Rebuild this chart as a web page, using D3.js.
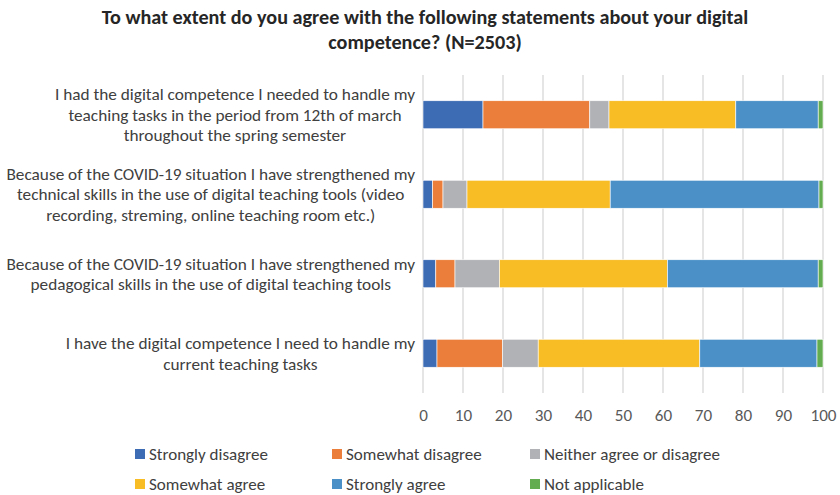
<!DOCTYPE html>
<html>
<head>
<meta charset="utf-8">
<script src="https://cdn.jsdelivr.net/npm/d3@7"></script>
<style>
  html, body { margin: 0; padding: 0; background: #fff; }
  svg { display: block; }
</style>
</head>
<body>
<svg id="chart" width="840" height="495"></svg>
<script>
// Survey statements (each wrapped label is stored as its lines)
const statements = [
  ["I had the digital competence I needed to handle my",
   "teaching tasks in the period from 12th of march",
   "throughout the spring semester"],
  ["Because of the COVID-19 situation I have strengthened my",
   "technical skills in the use of digital teaching tools (video",
   "recording, streming, online teaching room etc.)"],
  ["Because of the COVID-19 situation I have strengthened my",
   "pedagogical skills in the use of digital teaching tools"],
  ["I have the digital competence I need to handle my",
   "current teaching tasks"]
];

const responses = ["Strongly disagree", "Somewhat disagree", "Neither agree or disagree",
                   "Somewhat agree", "Strongly agree", "Not applicable"];

// Percentage of respondents per answer, one array per statement (same order as above)
const stronglyDisagree = [15.0, 2.4, 3.2, 3.5];
const somewhatDisagree = [26.7, 2.6, 4.8, 16.4];
const neitherAgree     = [4.8, 6.0, 11.1, 8.9];
const somewhatAgree    = [31.7, 35.8, 42.0, 40.4];
const stronglyAgree    = [20.6, 52.2, 37.7, 29.3];
const notApplicable    = [1.2, 1.0, 1.2, 1.5];

const xTicks = [0, 10, 20, 30, 40, 50, 60, 70, 80, 90, 100];

const titleLines = ["To what extent do you agree with the following statements about your digital",
                    "competence? (N=2503)"];

const colors = ["#3e6cb4", "#eb7e3a", "#b1b2b5", "#f8bc25", "#4b91c8", "#64ac50"];

const seriesValues = [stronglyDisagree, somewhatDisagree, neitherAgree,
                      somewhatAgree, stronglyAgree, notApplicable];

const FONT = "'Liberation Sans Narrow', Carlito, Lato, 'Liberation Sans', sans-serif";

const svg = d3.select("#chart");

// Table for the stack layout
const rows = statements.map((s, i) => {
  const r = { id: i };
  responses.forEach((k, j) => { r[k] = seriesValues[j][i]; });
  return r;
});
const stacked = d3.stack().keys(responses)(rows);

const x = d3.scaleLinear().domain([0, 100]).range([423, 823]);
const y = d3.scaleBand().domain(statements.map((s, i) => i))
  .range([75, 393]).paddingInner(0.648).paddingOuter(0.324);

// Measure text width for a given font spec
const measureCanvas = document.createElement("canvas").getContext("2d");
function textWidth(str, size, weight) {
  measureCanvas.font = `${weight || "normal"} ${size}px ${FONT}`;
  return measureCanvas.measureText(str).width;
}
function fitSize(str, targetWidth, weight) {
  return 100 * targetWidth / textWidth(str, 100, weight);
}

// Vertical gridlines
svg.append("g")
  .selectAll("line")
  .data(xTicks)
  .join("line")
  .attr("x1", d => x(d)).attr("x2", d => x(d))
  .attr("y1", 75).attr("y2", 393)
  .attr("stroke", "#dcdcdc")
  .attr("stroke-width", 1.5);

// Stacked bars
svg.append("g")
  .selectAll("g")
  .data(stacked)
  .join("g")
  .attr("fill", (d, i) => colors[i])
  .selectAll("rect")
  .data(d => d)
  .join("rect")
  .attr("x", d => x(d[0]))
  .attr("width", d => x(d[1]) - x(d[0]))
  .attr("y", (d, i) => y(i))
  .attr("height", y.bandwidth())
  .attr("stroke", "#fff")
  .attr("stroke-width", 0.6);

// X axis tick labels
const tickSize = fitSize("100", 26);
const xAxis = d3.axisBottom(x).tickValues(xTicks).tickSize(0).tickPadding(0);
const axisG = svg.append("g").attr("transform", "translate(0,415)").call(xAxis);
axisG.select(".domain").remove();
axisG.selectAll("text")
  .attr("font-family", FONT)
  .attr("font-size", tickSize)
  .attr("fill", "#595959")
  .attr("y", 0)
  .attr("dy", "0.35em");

// Category labels: each block right-aligned at the axis, lines centred within the block
const labelSize = fitSize("Because of the COVID-19 situation I have strengthened my", 409);
const lineGap = 20.5;
const labelG = svg.append("g");
statements.forEach((lines, i) => {
  const blockW = d3.max(lines, l => textWidth(l, labelSize));
  const cx = 415 - blockW / 2;
  const cy = y(i) + y.bandwidth() / 2;
  const t = labelG.append("text")
    .attr("font-family", FONT)
    .attr("font-size", labelSize)
    .attr("fill", "#404040")
    .attr("text-anchor", "middle");
  lines.forEach((l, k) => {
    t.append("tspan")
      .attr("x", cx)
      .attr("y", cy + (k - (lines.length - 1) / 2) * lineGap)
      .attr("dy", "0.35em")
      .text(l);
  });
});

// Title
const titleSize = fitSize(titleLines[0], 647, "bold");
const title = svg.append("text")
  .attr("font-family", FONT)
  .attr("font-size", titleSize)
  .attr("font-weight", "bold")
  .attr("fill", "#262626")
  .attr("text-anchor", "middle");
titleLines.forEach((l, k) => {
  title.append("tspan").attr("x", 425).attr("y", 17 + k * 25).attr("dy", "0.35em").text(l);
});

// Legend: three columns, two rows
const legendSize = fitSize("Strongly disagree", 119);
const legendX = [135, 332, 530];
const legendY = [454, 484];
const legend = svg.append("g")
  .selectAll("g")
  .data(responses)
  .join("g")
  .attr("transform", (d, i) => `translate(${legendX[i % 3]},${legendY[Math.floor(i / 3)]})`);
legend.append("rect")
  .attr("x", 0).attr("y", -5)
  .attr("width", 10).attr("height", 10)
  .attr("fill", (d, i) => colors[i]);
legend.append("text")
  .attr("x", 14).attr("y", 0).attr("dy", "0.35em")
  .attr("font-family", FONT)
  .attr("font-size", legendSize)
  .attr("fill", "#404040")
  .text(d => d);
</script>
</body>
</html>
